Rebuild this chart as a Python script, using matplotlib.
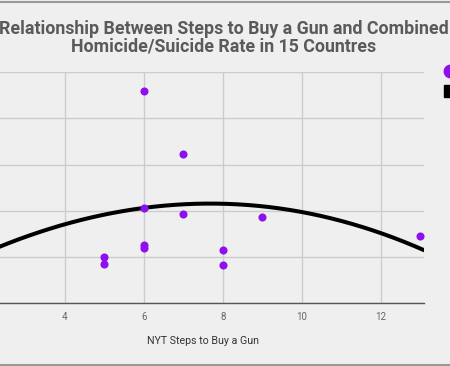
import matplotlib.pyplot as plt
from matplotlib.lines import Line2D
import numpy as np

plt.rcParams['font.family'] = ['Roboto', 'DejaVu Sans']

# NYT steps to buy a gun vs combined homicide/suicide rate (visible points)
steps = [6, 7, 6, 7, 9, 6, 6, 5, 5, 8, 8, 13]
rate = [23.0, 16.1, 10.3, 9.6, 9.3, 6.3, 6.0, 5.0, 4.2, 5.8, 4.1, 7.3]

# trendline
trend_x = [2.35, 4, 6, 8, 10, 12, 13.1]
trend_y = [6.1, 8.6, 10.3, 10.7, 9.9, 7.6, 5.7]

xticks = [4, 6, 8, 10, 12]
yticks = [0, 5, 10, 15, 20, 25]

bg = '#efefef'
W, H = 450, 366
fig = plt.figure(figsize=(W / 100, H / 100), dpi=100, facecolor=bg)

# plot area runs off the left edge (cropped chart)
x0, x1 = 0, 13.1
px_per = 39.5
left_px = 65 - 4 * px_per
ax = fig.add_axes([left_px / W, (H - 303.3) / H, (x1 - x0) * px_per / W, (303.3 - 72) / H])
ax.set_facecolor(bg)

coef = np.polyfit(trend_x, trend_y, 3)
xs = np.linspace(x0, x1, 200)
ax.plot(xs, np.polyval(coef, xs), color='black', lw=2.9, zorder=3, solid_capstyle='butt')
ax.scatter(steps, rate, s=34, color='#8f10ee', zorder=4, linewidths=0)

ax.set_xlim(x0, x1)
ax.set_ylim(0, 25)
ax.set_xticks(xticks)
ax.set_yticks(yticks)
ax.set_yticklabels([])
ax.grid(True, color='#cccccc', lw=1)
ax.set_axisbelow(True)
for s in ['top', 'right', 'left']:
    ax.spines[s].set_visible(False)
ax.spines['bottom'].set_color('#555555')
ax.spines['bottom'].set_linewidth(1)
ax.tick_params(length=0, labelsize=7, labelcolor='#666666', pad=6)

fig.text(203 / W, 1 - 341 / H, 'NYT Steps to Buy a Gun', ha='center', va='center',
         fontsize=7.7, color='#333333')

handles = [Line2D([], [], marker='o', color='#8f10ee', ls='none', markersize=9),
           Line2D([], [], marker='s', color='black', ls='none', markersize=8)]
fig.legend(handles, ['Homicide/Suicide Rate', 'Trendline'], loc='upper left',
           bbox_to_anchor=(445 / W, 1 - 67 / H), frameon=False, handlelength=1,
           borderpad=0, borderaxespad=0, handletextpad=0.5, fontsize=7.5, labelspacing=0.95)

fig.text(224 / W, 1 - 37.5 / H, 'Relationship Between Steps to Buy a Gun and Combined\nHomicide/Suicide Rate in 15 Countres',
         ha='center', va='center', fontsize=12.8, fontweight='bold', color='#5a5a5a', linespacing=1.0)

fig.add_artist(Line2D([0, 1], [1 - 1.5 / H, 1 - 1.5 / H], color='#999999', lw=1.5))
fig.add_artist(Line2D([0, 1], [1.5 / H, 1.5 / H], color='#999999', lw=1.5))

fig.savefig('out.png', dpi=100, facecolor=bg)
